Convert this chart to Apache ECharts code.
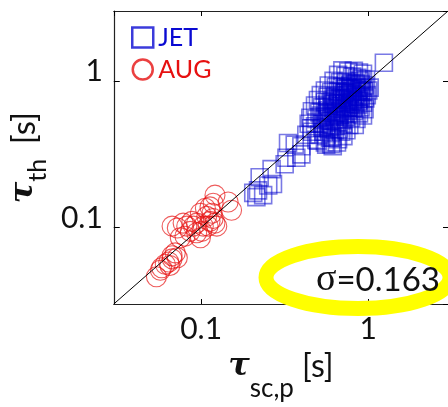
<!DOCTYPE html>
<html>
<head>
<meta charset="utf-8">
<script src="https://cdn.jsdelivr.net/npm/echarts@6/dist/echarts.min.js"></script>
<style>
  html, body { margin: 0; padding: 0; background: #fff; }
  #chart { width: 448px; height: 407px; }
</style>
</head>
<body>
<div id="chart"></div>
<script>
// Confinement time: scaling-law prediction (tau_sc,p) vs. measured thermal (tau_th), seconds
const seriesNames = ['JET', 'AUG'];

// JET discharges: [tau_sc,p, tau_th]
const jetData = [
  [1.24, 1.33],
  [0.70, 1.18], [0.76, 1.16], [0.82, 1.17], [0.88, 1.14], [0.93, 1.12], [0.66, 1.10],
  [0.73, 1.08], [0.80, 1.07], [0.86, 1.05], [0.91, 1.03], [0.97, 1.02],
  [0.62, 1.00], [0.68, 0.98], [0.74, 0.99], [0.79, 0.96], [0.84, 0.97], [0.90, 0.95],
  [0.95, 0.93], [1.02, 0.90], [1.00, 0.86], [0.58, 0.93], [0.64, 0.91], [0.70, 0.92],
  [0.76, 0.90], [0.82, 0.88], [0.88, 0.87], [0.94, 0.85], [0.98, 0.80],
  [0.55, 0.86], [0.60, 0.84], [0.66, 0.85], [0.72, 0.83], [0.78, 0.82], [0.84, 0.80],
  [0.90, 0.78], [0.96, 0.76], [0.52, 0.80], [0.57, 0.78], [0.63, 0.79], [0.69, 0.77],
  [0.75, 0.76], [0.81, 0.74], [0.87, 0.73], [0.93, 0.71],
  [0.50, 0.74], [0.55, 0.72], [0.61, 0.73], [0.66, 0.71], [0.72, 0.70], [0.78, 0.69],
  [0.84, 0.68], [0.90, 0.66], [0.95, 0.64],
  [0.48, 0.68], [0.53, 0.66], [0.58, 0.67], [0.64, 0.65], [0.70, 0.64], [0.76, 0.63],
  [0.82, 0.62], [0.88, 0.60], [0.93, 0.58],
  [0.46, 0.62], [0.51, 0.61], [0.56, 0.60], [0.62, 0.59], [0.67, 0.58], [0.73, 0.57],
  [0.79, 0.56], [0.85, 0.55],
  [0.45, 0.56], [0.49, 0.55], [0.54, 0.54], [0.59, 0.53], [0.65, 0.52], [0.71, 0.51],
  [0.77, 0.50], [0.83, 0.50],
  [0.44, 0.51], [0.48, 0.49], [0.53, 0.48], [0.58, 0.47], [0.63, 0.46], [0.69, 0.45],
  [0.74, 0.46],
  [0.46, 0.45], [0.51, 0.43], [0.56, 0.42], [0.61, 0.41], [0.66, 0.40], [0.71, 0.42],
  [0.50, 0.39], [0.55, 0.38], [0.60, 0.37], [0.65, 0.38],
  [0.60, 0.62], [0.65, 0.68], [0.70, 0.74], [0.75, 0.80], [0.80, 0.85], [0.85, 0.90],
  [0.62, 0.70], [0.68, 0.76], [0.73, 0.84], [0.78, 0.88], [0.57, 0.63], [0.63, 0.57],
  [0.68, 0.62], [0.74, 0.66], [0.80, 0.72], [0.86, 0.78], [0.91, 0.84], [0.55, 0.57],
  [0.60, 0.50], [0.66, 0.55], [0.72, 0.60], [0.77, 0.66], [0.83, 0.70], [0.88, 0.75],
  [0.52, 0.58], [0.57, 0.69], [0.62, 0.75], [0.67, 0.80], [0.72, 0.88], [0.78, 0.93],
  [0.84, 0.95], [0.89, 1.00], [0.53, 0.51], [0.58, 0.56], [0.64, 0.61], [0.69, 0.67],
  [0.75, 0.72], [0.81, 0.78], [0.86, 0.84], [0.92, 0.90], [0.70, 0.54], [0.76, 0.59],
  [0.81, 0.65], [0.87, 0.69], [0.64, 0.49], [0.60, 0.44], [0.67, 0.47], [0.54, 0.45],
  [0.59, 0.41],
  [0.560, 0.367], [0.613, 0.358], [0.489, 0.396], [0.456, 0.475], [0.426, 0.428],
  [0.398, 0.358], [0.363, 0.367], [0.331, 0.377], [0.398, 0.315], [0.371, 0.299],
  [0.324, 0.299], [0.316, 0.270], [0.264, 0.250], [0.224, 0.220], [0.269, 0.198],
  [0.252, 0.193], [0.235, 0.166], [0.219, 0.179], [0.205, 0.172], [0.214, 0.161]
];

// ASDEX Upgrade discharges: [tau_sc,p, tau_th]
const augData = [
  [0.121, 0.166], [0.145, 0.149], [0.152, 0.131], [0.113, 0.138], [0.116, 0.125],
  [0.118, 0.115], [0.113, 0.110], [0.121, 0.107], [0.110, 0.102], [0.103, 0.102],
  [0.101, 0.094], [0.094, 0.107], [0.088, 0.110], [0.090, 0.102], [0.082, 0.102],
  [0.078, 0.107], [0.072, 0.099], [0.086, 0.094], [0.094, 0.092], [0.099, 0.085],
  [0.080, 0.087], [0.075, 0.085], [0.070, 0.067], [0.072, 0.062], [0.067, 0.061],
  [0.064, 0.058], [0.061, 0.056], [0.058, 0.053], [0.057, 0.051], [0.054, 0.046],
  [0.065, 0.055], [0.067, 0.064], [0.108, 0.119], [0.106, 0.135], [0.124, 0.102],
  [0.067, 0.102], [0.099, 0.125], [0.118, 0.146]
];

// Equality line tau_th = tau_sc,p across the full axis range
const unityLine = [[0.03, 0.03], [3, 3]];

const axisRange = [0.03, 3];
const sigmaValue = '0.163';

const blue = '#0a0ad2';
const red = '#e61010';
const ink = '#111';
const labelFont = 'Lato, "Open Sans", sans-serif';
const tauFont = '"DejaVu Serif", serif';

function decadeLabel(v) {
  const l = Math.log10(v);
  if (Math.abs(l - Math.round(l)) > 1e-6) return '';
  const r = Math.round(l);
  if (r === -1) return '0.1';
  if (r === 0) return '1';
  return '';
}

const chart = echarts.init(document.getElementById('chart'), null, { renderer: 'canvas' });

const frameLine = { show: true, lineStyle: { color: '#222', width: 1.2 } };

function axis(position, extra) {
  return Object.assign({
    type: 'log',
    logBase: 10,
    position: position,
    min: axisRange[0],
    max: axisRange[1],
    splitLine: { show: false },
    minorTick: { show: false },
    axisLine: frameLine,
    axisTick: { show: true, inside: true, length: 5, lineStyle: { color: '#000', width: 1 } },
    axisLabel: { show: false }
  }, extra);
}

chart.setOption({
  animation: false,
  backgroundColor: '#fff',
  grid: { left: 113, top: 11, width: 336, height: 297 },
  legend: {
    orient: 'vertical',
    left: 126, top: 20,
    itemWidth: 21, itemHeight: 20,
    itemGap: 7,
    selectedMode: false,
    textStyle: { fontFamily: labelFont, fontSize: 25, padding: [2, 0, 0, 0] },
    data: [
      { name: 'JET', icon: 'rect',
        itemStyle: { color: 'transparent', borderColor: blue, borderWidth: 2.5 },
        textStyle: { color: blue } },
      { name: 'AUG', icon: 'circle',
        itemStyle: { color: 'transparent', borderColor: red, borderWidth: 2.5 },
        textStyle: { color: red } }
    ]
  },
  xAxis: [
    axis('bottom', {
      axisLabel: {
        show: true, formatter: decadeLabel, margin: 10,
        fontFamily: labelFont, fontSize: 30, color: ink,
        showMinLabel: false, showMaxLabel: false
      },
      name: '{t|τ}{s|sc,p}{u| [s]}',
      nameLocation: 'middle',
      nameGap: 47,
      nameTextStyle: {
        color: ink,
        rich: {
          t: { fontFamily: tauFont, fontStyle: 'italic', fontWeight: 'bold', fontSize: 32,
               lineHeight: 36, verticalAlign: 'top', color: ink },
          s: { fontFamily: labelFont, fontSize: 26, lineHeight: 36, verticalAlign: 'top',
               padding: [25, 0, 0, 0], color: ink },
          u: { fontFamily: labelFont, fontSize: 32, lineHeight: 36, verticalAlign: 'top',
               color: ink }
        }
      }
    }),
    axis('top', {})
  ],
  yAxis: [
    axis('left', {
      axisTick: { show: true, inside: true, length: 6, lineStyle: { color: '#000', width: 1 } },
      axisLabel: {
        show: true, formatter: decadeLabel, margin: 11,
        fontFamily: labelFont, fontSize: 30, color: ink,
        verticalAlign: 'bottom', lineHeight: 19,
        showMinLabel: false, showMaxLabel: false
      },
      name: '{t|τ}{s|th}{u| [s]}',
      nameLocation: 'middle',
      nameGap: 46,
      nameTextStyle: {
        color: ink,
        rich: {
          t: { fontFamily: tauFont, fontStyle: 'italic', fontWeight: 'bold', fontSize: 32,
               lineHeight: 36, verticalAlign: 'top', color: ink },
          s: { fontFamily: labelFont, fontSize: 25, lineHeight: 36, verticalAlign: 'top',
               padding: [17, 0, 0, 0], color: ink },
          u: { fontFamily: labelFont, fontSize: 33, lineHeight: 36, verticalAlign: 'top',
               padding: [0, 0, 0, 6], color: ink }
        }
      }
    }),
    axis('right', { axisLine: { show: false } })
  ],
  series: [
    {
      name: 'JET', type: 'scatter', xAxisIndex: 0, yAxisIndex: 0,
      symbol: 'rect', symbolSize: 17,
      itemStyle: { color: 'transparent', borderColor: 'rgba(0,0,205,0.66)', borderWidth: 1.6 },
      data: jetData
    },
    {
      name: 'AUG', type: 'scatter', xAxisIndex: 0, yAxisIndex: 0,
      symbol: 'circle', symbolSize: 20,
      itemStyle: { color: 'transparent', borderColor: 'rgba(230,16,16,0.85)', borderWidth: 1.1 },
      data: augData
    },
    {
      name: 'unity', type: 'line', xAxisIndex: 0, yAxisIndex: 0,
      symbol: 'none', silent: true,
      lineStyle: { color: '#000', width: 1 },
      data: unityLine
    }
  ],
  graphic: [
    {
      type: 'ellipse', z: 20, silent: true,
      shape: { cx: 358, cy: 277.5, rx: 92, ry: 31 },
      style: { fill: 'none', stroke: '#ffff00', lineWidth: 15 }
    },
    {
      type: 'text', z: 21, silent: true,
      left: 316, top: 261,
      style: {
        text: '{g|σ}=' + sigmaValue,
        fontFamily: labelFont, fontSize: 33, fill: ink,
        rich: {
          g: { fontFamily: '"Liberation Serif", serif', fontSize: 38, fill: ink }
        }
      }
    }
  ]
});
</script>
</body>
</html>
